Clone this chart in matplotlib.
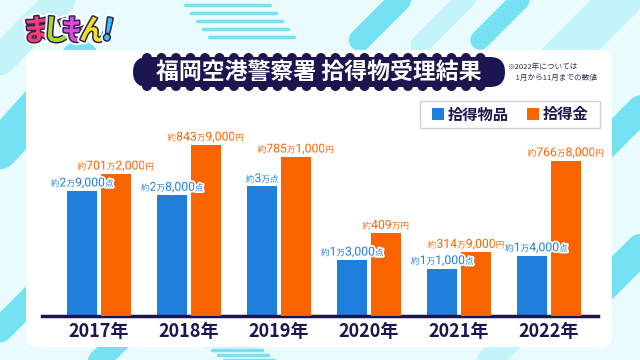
import re
import numpy as np
import matplotlib
matplotlib.use("Agg")
import matplotlib.pyplot as plt
import matplotlib.patheffects as pe
from matplotlib.patches import FancyBboxPatch, Circle, Rectangle
from matplotlib.lines import Line2D
from matplotlib.transforms import Affine2D
from matplotlib.offsetbox import TextArea, HPacker, AnnotationBbox

plt.rcParams['font.family'] = ['Noto Sans CJK JP', 'DejaVu Sans']

# data
years = ['2017年', '2018年', '2019年', '2020年', '2021年', '2022年']
items = [29000, 28000, 30000, 13000, 11000, 14000]            # 拾得物品 (点)
money = [701.2, 843.9, 785.1, 409.0, 314.9, 766.8]            # 拾得金 (万円)
item_labels = ['約2万9,000点', '約2万8,000点', '約3万点',
               '約1万3,000点', '約1万1,000点', '約1万4,000点']
money_labels = ['約701万2,000円', '約843万9,000円', '約785万1,000円',
                '約409万円', '約314万9,000円', '約766万8,000円']

BLUE = '#1f7fdc'
ORANGE = '#fa6400'
NAVY = '#1b1650'
CYAN = '#74e2f2'
PALE = '#c4f3fa'

fig = plt.figure(figsize=(6.4, 3.6), dpi=100)
fig.patch.set_facecolor('#eafbfd')

# pixel coords, origin top-left
px = Affine2D().scale(1, -1).translate(0, 360).scale(1 / 640, 1 / 360) + fig.transFigure


def stripe(x0, y0, x1, y1, w, c):
    fig.add_artist(Line2D([x0, x1], [y0, y1], transform=px, lw=w, color=c,
                          solid_capstyle='round', zorder=0))


# background decoration
stripe(0, 60, 60, 0, 22, PALE)
stripe(-10, 160, 80, 60, 28, CYAN)
stripe(0, 330, 60, 270, 18, CYAN)
stripe(360, 40, 400, 0, 16, CYAN)
stripe(420, 45, 470, -5, 14, PALE)
stripe(480, 40, 520, 0, 14, CYAN)
stripe(560, 60, 640, -20, 30, PALE)
stripe(600, 150, 660, 90, 20, CYAN)
stripe(590, 300, 660, 230, 22, CYAN)
stripe(80, 380, 120, 340, 16, CYAN)
stripe(470, 380, 510, 340, 18, PALE)
for k in range(5):
    stripe(185 + k * 6, 5 + k * 8, 270 + k * 6, 5 + k * 8, 2.5, CYAN)
    stripe(200 + k * 6, 340 + k * 5, 250 + k * 6, 340 + k * 5, 2.5, CYAN)

# white card
fig.add_artist(FancyBboxPatch((26, 50), 586, 297, transform=px,
                              boxstyle='round,pad=0,rounding_size=10',
                              fc='white', ec='none', zorder=1))

# title pill with scalloped edges
fig.add_artist(FancyBboxPatch((133, 57), 372, 30, transform=px,
                              boxstyle='round,pad=0,rounding_size=15',
                              fc=NAVY, ec='none', zorder=2))
for cx in np.arange(147, 495, 14.5):
    fig.add_artist(Circle((cx, 58), 5, transform=px, fc=NAVY, ec='none', zorder=2))
    fig.add_artist(Circle((cx, 86), 5, transform=px, fc=NAVY, ec='none', zorder=2))
fig.text(319 / 640, 1 - 72 / 360, '福岡空港警察署 拾得物受理結果', color='white',
         fontsize=16.5, fontweight='bold', ha='center', va='center', zorder=3)

fig.text(508 / 640, 1 - 72 / 360, '※2022年については\n　1月から11月までの数値',
         color='#333344', fontsize=5.5, ha='left', va='center', linespacing=1.5, zorder=3)

# logo
logo = [('ま', '#ff3c6e', 37, 6), ('じ', '#a5df1e', 57, -4), ('も', '#e24ad2', 76, 4),
        ('ん', '#f2e21c', 94, -3), ('!', '#2fc6f0', 108, -10)]
for ch, c, x, r in logo:
    fig.text(x / 640, 1 - 31 / 360, ch, color=c, fontsize=21, fontweight='bold',
             ha='center', va='center', rotation=r, zorder=3,
             path_effects=[pe.withStroke(linewidth=5, foreground='white'),
                           pe.withStroke(linewidth=2.2, foreground='#2a2460')])

# legend box
fig.add_artist(Rectangle((420, 101), 180, 27, transform=px, fc='white',
                         ec='#cfcfd8', lw=1, zorder=3))
fig.add_artist(Rectangle((432, 108), 12, 12, transform=px, fc=BLUE, ec='none', zorder=4))
fig.add_artist(Rectangle((527, 108), 12, 12, transform=px, fc=ORANGE, ec='none', zorder=4))
fig.text(448 / 640, 1 - 114.5 / 360, '拾得物品', color=NAVY, fontsize=11,
         fontweight='bold', ha='left', va='center', zorder=4)
fig.text(543 / 640, 1 - 114.5 / 360, '拾得金', color=NAVY, fontsize=11,
         fontweight='bold', ha='left', va='center', zorder=4)

# chart
ax = fig.add_axes([42 / 640, 1 - 316 / 360, 556 / 640, 196 / 360], zorder=5)
ax.patch.set_alpha(0)
ax2 = ax.twinx()
x = np.arange(len(years))
w = 0.333
off = 0.186

ax.bar(x - off, items, width=w, color=BLUE)
ax2.bar(x + off, money, width=w, color=ORANGE)
ax.set_ylim(0, 45400)
ax2.set_ylim(0, 967)
ax.set_xlim(-0.633, 5.544)


def value_label(text, color, xy, xycoords, dx=0):
    # digits big, 約/万/点/円 small, like the TV caption
    parts = []
    for seg in re.findall(r'[0-9,]+|[^0-9,]+', text):
        big = seg[0].isdigit()
        parts.append(TextArea(seg, textprops=dict(
            color=color, fontsize=8.8 if big else 6.2,
            family=['Roboto', 'Noto Sans CJK JP'] if big else ['Noto Sans CJK JP'],
            path_effects=[pe.withStroke(linewidth=2.5, foreground='white')])))
    box = HPacker(children=parts, align='baseline', pad=0, sep=0)
    ab = AnnotationBbox(box, xy, xycoords=xycoords, xybox=(dx, 1),
                        boxcoords='offset points', box_alignment=(0.5, 0),
                        frameon=False, pad=0, zorder=6)
    ax2.add_artist(ab)


for i in range(len(years)):
    # 2021 cash label sits a little left, 2022 items label a little right (as in the broadcast)
    value_label(item_labels[i], BLUE, (x[i] - off, items[i]), ax.transData,
                dx=3 if i == 5 else 0)
    value_label(money_labels[i], ORANGE, (x[i] + off, money[i]), ax2.transData,
                dx=-7 if i == 4 else 0)

for a in (ax, ax2):
    for s in ('top', 'right', 'left'):
        a.spines[s].set_visible(False)
    a.set_yticks([])
ax2.spines['bottom'].set_visible(False)
ax.spines['bottom'].set_color(NAVY)
ax.spines['bottom'].set_linewidth(2.5)
ax.set_xticks(x)
ax.set_xticklabels(years, fontsize=13, fontweight='bold', color=NAVY)
ax.tick_params(axis='x', length=0, pad=4)

fig.savefig('out.png', dpi=100, facecolor=fig.get_facecolor())
